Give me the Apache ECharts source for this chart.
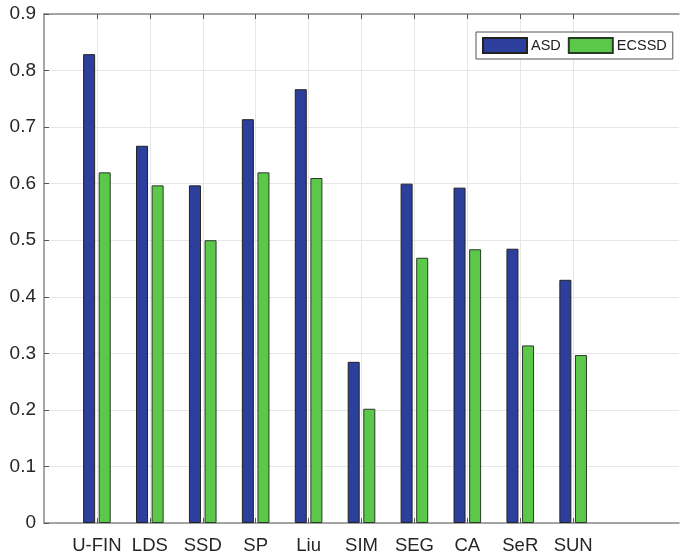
<!DOCTYPE html>
<html>
<head>
<meta charset="utf-8">
<script src="https://cdn.jsdelivr.net/npm/echarts@6/dist/echarts.min.js"></script>
<style>
  html, body { margin: 0; padding: 0; background: #fff; }
  #main { width: 682px; height: 559px; }
</style>
</head>
<body>
<div id="main"></div>
<script>
var methods = ['U-FIN', 'LDS', 'SSD', 'SP', 'Liu', 'SIM', 'SEG', 'CA', 'SeR', 'SUN'];
var asd = [0.829, 0.667, 0.597, 0.714, 0.767, 0.285, 0.600, 0.593, 0.485, 0.430];
var ecssd = [0.620, 0.597, 0.500, 0.620, 0.610, 0.202, 0.469, 0.484, 0.314, 0.297];
var yTicks = [0, 0.1, 0.2, 0.3, 0.4, 0.5, 0.6, 0.7, 0.8, 0.9];

// matlab style x range: one empty slot before, two after
var cats = [''].concat(methods, ['', '']);
function pad(arr) {
    return [null].concat(arr, [null, null]);
}
var notBlank = function (i, v) { return v !== ''; };

var font = "'Liberation Sans', Arial, sans-serif";
var myChart = echarts.init(document.getElementById('main'));

var option = {
    animation: false,
    textStyle: { fontFamily: font },
    legend: {
        data: ['ASD', 'ECSSD'],
        left: 476,
        top: 32,
        orient: 'horizontal',
        itemWidth: 44,
        itemHeight: 15,
        itemGap: 7,
        padding: [5, 6, 5, 6],
        borderColor: '#555',
        borderWidth: 1,
        backgroundColor: '#fff',
        icon: 'rect',
        textStyle: { color: '#222', fontSize: 14.5, fontFamily: font, padding: [0, 0, 0, -1] }
    },
    grid: {
        left: 44,
        right: -7,
        top: 14,
        bottom: 36,
        containLabel: false
    },
    xAxis: [
        {
            type: 'category',
            data: cats,
            boundaryGap: false,
            axisLine: { lineStyle: { color: '#8a8a8a', width: 1.5 } },
            axisTick: { show: true, inside: true, length: 5, interval: notBlank, lineStyle: { color: '#555' } },
            axisLabel: { interval: 0, color: '#262626', fontSize: 18.5, margin: 13, fontFamily: font },
            splitLine: { show: true, interval: notBlank, lineStyle: { color: '#e6e6e6' } }
        },
        {
            type: 'category',
            data: cats,
            position: 'top',
            boundaryGap: false,
            axisLine: { show: true, lineStyle: { color: '#8a8a8a', width: 1.5 } },
            axisTick: { show: true, inside: true, length: 5, interval: notBlank, lineStyle: { color: '#555' } },
            axisLabel: { show: false },
            splitLine: { show: false }
        }
    ],
    yAxis: {
        type: 'value',
        min: 0,
        max: 0.9,
        interval: 0.1,
        axisLine: { show: true, lineStyle: { color: '#8a8a8a', width: 1.5 } },
        axisTick: { show: true, inside: true, length: 5, lineStyle: { color: '#555' } },
        axisLabel: {
            color: '#262626',
            fontSize: 19,
            margin: 8,
            fontFamily: font,
            formatter: function (v) { return v === 0 ? '0' : v.toFixed(1); }
        },
        splitLine: { show: true, lineStyle: { color: '#e6e6e6' } }
    },
    series: [
        {
            name: 'ASD',
            type: 'bar',
            data: pad(asd),
            barWidth: 12,
            barGap: '30%',
            itemStyle: { color: '#2c3f9c', borderColor: '#222', borderWidth: 1 }
        },
        {
            name: 'ECSSD',
            type: 'bar',
            data: pad(ecssd),
            barWidth: 12,
            itemStyle: { color: '#5cc84a', borderColor: '#2a3a2a', borderWidth: 1 }
        }
    ]
};
myChart.setOption(option);
</script>
</body>
</html>
